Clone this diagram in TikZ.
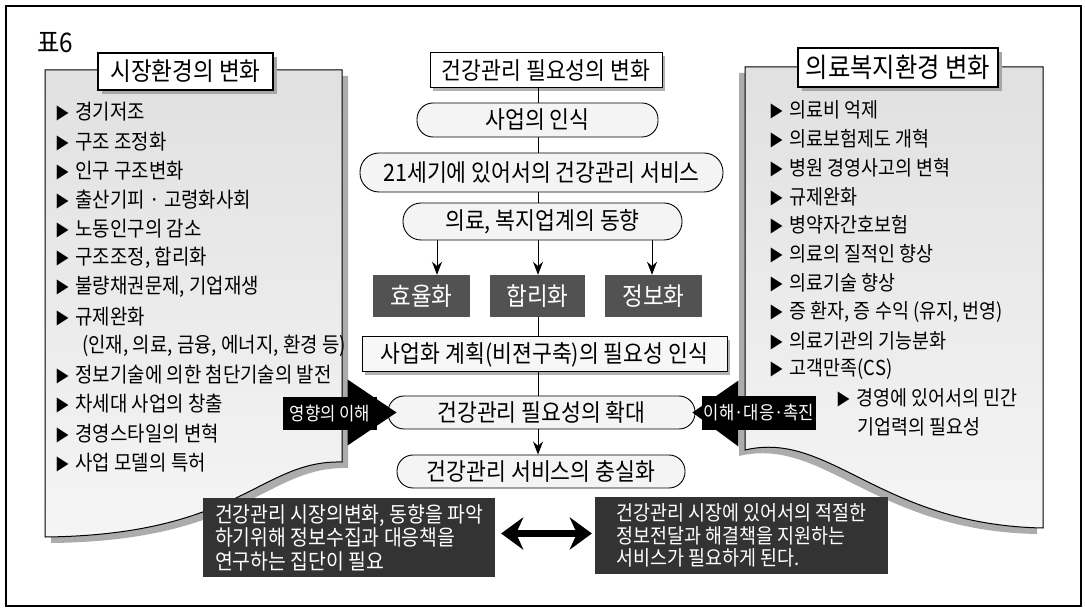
\documentclass[tikz,border=0pt]{standalone}
\usepackage{fontspec}
\newfontfamily\kr[FakeStretch=0.9]{Noto Sans CJK KR}
\usetikzlibrary{arrows.meta,calc,shadows}
\newcommand\fsz[1]{\fontsize{#1}{#1}\selectfont}
\newcommand\bul{{\fsz{16}▶}\hspace{6pt}}
\begin{document}
\begin{tikzpicture}[x=1pt,y=-1pt,
  frame/.style={line width=1.8pt},
  panel/.style={draw=black, line width=1pt, top color=gray!24, bottom color=gray!8},
  pshadow/.style={fill=gray!65},
  ttl/.style={draw, line width=1.2pt, fill=white, inner sep=0pt, font=\kr\fsz{25},
    drop shadow={shadow xshift=4pt, shadow yshift=-4pt, fill=gray!70, opacity=1}},
  item/.style={anchor=west, inner sep=0pt, font=\kr\fsz{21}},
  ritem/.style={anchor=west, inner sep=0pt, font=\kr\fsz{20.5}},
  cbox/.style={draw, line width=1pt, fill=white, inner sep=0pt, font=\kr\fsz{24},
    drop shadow={shadow xshift=3pt, shadow yshift=-3pt, fill=gray!60, opacity=1}},
  pill/.style={draw, line width=0.9pt, fill=gray!9, rounded corners=16pt, inner sep=0pt, font=\kr\fsz{24}},
  dbox/.style={fill=black!68, text=white, inner sep=0pt, font=\kr\fsz{25}},
  bbox/.style={fill=black!80, text=white, inner sep=0pt, align=left},
  lnk/.style={line width=1pt},
  arr/.style={line width=1pt, -{Stealth[length=13pt,width=10pt]}},
  barlabel/.style={fill=black, text=white, inner sep=0pt, font=\kr\fsz{18.5}},
  dbl/.style={line width=7pt, {Stealth[length=22pt,width=32pt]}-{Stealth[length=22pt,width=32pt]}}
]
\useasboundingbox (0,0) rectangle (1085,609);
\draw[frame] (6,6) rectangle (1081,606);
\node[font=\kr\fsz{27}, anchor=west, inner sep=0pt] (t6) at (37,43) {표6};

% left panel
\begin{scope}[shift={(6,6)}]
\path[pshadow] (45,70) -- (342,70) -- (342,462) .. controls (260,460) and (240,535) .. (45,537) -- cycle;
\end{scope}
\path[panel] (45,70) -- (342,70) -- (342,462) .. controls (260,460) and (240,535) .. (45,537) -- cycle;
% right panel
\begin{scope}[shift={(-6,6)}]
\path[pshadow] (745,67) -- (1043,67) -- (1043,528) .. controls (880,525) and (830,430) .. (745,450) -- cycle;
\end{scope}
\path[panel] (745,67) -- (1043,67) -- (1043,528) .. controls (880,525) and (830,430) .. (745,450) -- cycle;

\node[ttl, minimum width=175pt, minimum height=37pt] (ltitle) at (185.5,71.5) {시장환경의 변화};
\node[ttl, minimum width=200pt, minimum height=39pt, font=\kr\fsz{27}] (rtitle) at (898,67.5) {의료복지환경 변화};

% left items
\foreach \t [count=\i from 0] in {경기저조,구조 조정화,인구 구조변화,출산기피 · 고령화사회,노동인구의 감소,{구조조정, 합리화},{불량채권문제, 기업재생},규제완화}
  \node[item] (l\i) at (55,112+29.2*\i) {\bul\t};
\node[item] (l8) at (82,112+29.2*8) {(인재, 의료, 금융, 에너지, 환경 등)};
\foreach \t [count=\i from 9] in {정보기술에 의한 첨단기술의 발전,차세대 사업의 창출,경영스타일의 변혁,사업 모델의 특허}
  \node[item] (l\i) at (55,112+29.2*\i) {\bul\t};

% right items
\foreach \t [count=\i from 0] in {의료비 억제,의료보험제도 개혁,병원 경영사고의 변혁,규제완화,병약자간호보험,의료의 질적인 향상,의료기술 향상,{증 환자, 증 수익 (유지, 번영)},의료기관의 기능분화,고객만족(CS)}
  \node[ritem] (r\i) at (769,110+28.8*\i) {\bul\t};
\node[ritem] (r10) at (836,110+28.8*10) {\bul 경영에 있어서의 민간};
\node[ritem] (r11) at (857,110+28.8*11) {기업력의 필요성};

% center column
\node[cbox, minimum width=232pt, minimum height=35pt] (chg) at (546,70.5) {건강관리 필요성의 변화};
\node[pill, minimum width=241pt, minimum height=34pt] (saup) at (537.5,120) {사업의 인식};
\node[pill, minimum width=363pt, minimum height=39pt, rounded corners=19pt] (c21) at (541.5,172.5) {21세기에 있어서의 건강관리 서비스};
\node[pill, minimum width=279pt, minimum height=37pt, rounded corners=18pt] (dong) at (542.5,221.5) {의료, 복지업계의 동향};
\node[dbox, minimum width=97pt, minimum height=42pt] (hyo) at (421.5,296) {효율화};
\node[dbox, minimum width=95pt, minimum height=42pt] (hap) at (537.5,296) {합리화};
\node[dbox, minimum width=97pt, minimum height=42pt] (jeong) at (653.5,296) {정보화};
\node[cbox, fill=gray!6, minimum width=365pt, minimum height=35pt] (plan) at (544.5,354.5) {사업화 계획(비젼구축)의 필요성 인식};
\node[pill, minimum width=307pt, minimum height=33pt] (hwak) at (541.5,412.5) {건강관리 필요성의 확대};
\node[pill, minimum width=288pt, minimum height=33pt] (chung) at (541,471.5) {건강관리 서비스의 충실화};

\coordinate (sp) at (538,0);
\coordinate (a1) at (437,0);
\coordinate (a3) at (652,0);
\draw[lnk] (chg.south -| sp) -- (saup.north -| sp);
\draw[lnk] (saup.south -| sp) -- (c21.north -| sp);
\draw[lnk] (c21.south -| sp) -- (dong.north -| sp);
\draw[arr] (dong.south -| a1) -- (hyo.north -| a1);
\draw[arr] (dong.south -| sp) -- (hap.north -| sp);
\draw[arr] (dong.south -| a3) -- (jeong.north -| a3);
\draw[lnk] (hap.south -| sp) -- (plan.north -| sp);
\draw[lnk] (plan.south -| sp) -- (hwak.north -| sp);
\draw[arr] (hwak.south -| sp) -- (chung.north -| sp);

% side arrows
\coordinate (ltip) at ($(hwak.west)+(9,0)$);
\fill ($(ltip)+(-49,-33)$) -- (ltip) -- ($(ltip)+(-49,33)$) -- cycle;
\node[barlabel, minimum width=94pt, minimum height=33pt] (lar) at (330,414) {영향의 이해};
\coordinate (rtip) at ($(hwak.east)+(-3,0)$);
\fill ($(rtip)+(46,-32)$) -- (rtip) -- ($(rtip)+(46,34)$) -- cycle;
\node[barlabel, minimum width=114pt, minimum height=34pt] (rar) at (759,413) {이해·대응·촉진};

% bottom boxes
\node[bbox, minimum width=292pt, minimum height=79pt, font=\kr\fontsize{21.5}{23.5}\selectfont] (lbox) at (349,537.5)
  {건강관리 시장의변화, 동향을 파악\\하기위해 정보수집과 대응책을\\연구하는 집단이 필요};
\node[bbox, minimum width=293pt, minimum height=77pt, font=\kr\fontsize{20.5}{22.5}\selectfont] (rbox) at (741.5,535.5)
  {건강관리 시장에 있어서의 적절한\\정보전달과 해결책을 지원하는\\서비스가 필요하게 된다.};
\begin{scope}[shift={(3,3)}]
\draw[dbl, gray!60] ($(lbox.east)+(6,-4)$) -- ($(rbox.west)+(-3,-2)$);
\end{scope}
\draw[dbl] ($(lbox.east)+(6,-4)$) -- ($(rbox.west)+(-3,-2)$);
\end{tikzpicture}
\end{document}
